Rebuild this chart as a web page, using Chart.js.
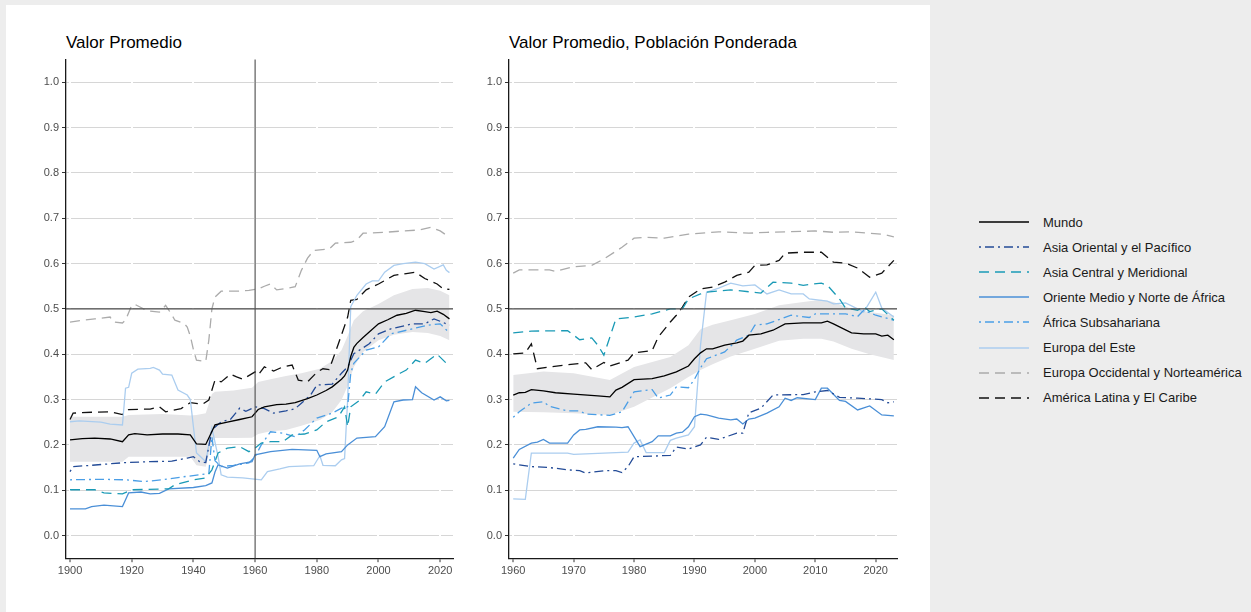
<!DOCTYPE html>
<html lang="es">
<head>
<meta charset="utf-8">
<title>Valor Promedio</title>
<script src="https://cdn.jsdelivr.net/npm/chart.js@4.4.1/dist/chart.umd.min.js"></script>
<style>
  html, body { margin: 0; padding: 0; }
  body {
    width: 1251px; height: 612px; overflow: hidden; position: relative;
    background: #ededed;
    font-family: "Liberation Sans", Arial, Helvetica, sans-serif;
  }
  .sheet { position: absolute; left: 6px; top: 5px; width: 924px; height: 607px; background: #fff; }
  .title { position: absolute; top: 34px; font-size: 17px; line-height: 17px; color: #000; white-space: nowrap; }
  .panel { position: absolute; top: 50px; }
  #legend { position: absolute; left: 979px; top: 209.5px; }
  .item { display: flex; align-items: center; height: 25.1px; font-size: 13px; color: #1a1a1a; white-space: nowrap; }
  .item svg { margin-right: 14px; flex: none; }
</style>
</head>
<body>
<div class="sheet"></div>
<div class="title" style="left:66px">Valor Promedio</div>
<div class="title" style="left:509px">Valor Promedio, Población Ponderada</div>
<canvas id="prom" class="panel" width="445" height="540" style="left:20px"></canvas>
<canvas id="pond" class="panel" width="445" height="540" style="left:463px"></canvas>
<div id="legend"></div>
<script>
// --- tick values ---
const yTicks = [0, 0.1, 0.2, 0.3, 0.4, 0.5, 0.6, 0.7, 0.8, 0.9, 1];
const promYears = [1900, 1920, 1940, 1960, 1980, 2000, 2020];
const pondYears = [1960, 1970, 1980, 1990, 2000, 2010, 2020];

const regions = [
  'Mundo',
  'Asia Oriental y el Pacífico',
  'Asia Central y Meridional',
  'Oriente Medio y Norte de África',
  'África Subsahariana',
  'Europa del Este',
  'Europa Occidental y Norteamérica',
  'América Latina y El Caribe',
];

// --- simple average, [year, value] ---
const promMundo = [[1900,.211],[1904,.214],[1908,.215],[1913,.213],[1917,.207],[1919,.222],[1921,.225],[1925,.222],[1930,.224],[1935,.224],[1939,.222],[1941,.202],[1944,.201],[1945,.215],[1947,.244],[1951,.250],[1955,.256],[1959,.262],[1961,.278],[1963,.284],[1967,.289],[1970,.290],[1973,.293],[1977,.302],[1980,.310],[1983,.320],[1985,.328],[1988,.345],[1989,.352],[1990,.365],[1991,.395],[1992,.415],[1993,.424],[1995,.437],[1997,.449],[2000,.467],[2003,.476],[2006,.486],[2009,.490],[2012,.497],[2015,.494],[2017,.492],[2019,.495],[2021,.488],[2023,.478]];
const promAsiaOr = [[1900,.141],[1901,.152],[1907,.155],[1918,.161],[1926,.163],[1933,.164],[1938,.171],[1940,.174],[1942,.163],[1944,.161],[1946,.233],[1949,.251],[1952,.256],[1955,.281],[1957,.274],[1960,.284],[1963,.280],[1966,.270],[1970,.275],[1973,.280],[1975,.292],[1978,.310],[1980,.332],[1985,.334],[1988,.358],[1990,.372],[1992,.401],[1997,.423],[2000,.445],[2004,.456],[2011,.467],[2015,.467],[2018,.478],[2021,.470],[2023,.464]];
const promAsiaCen = [[1900,.101],[1908,.101],[1911,.094],[1917,.092],[1920,.101],[1932,.103],[1934,.112],[1940,.123],[1944,.127],[1946,.145],[1948,.182],[1951,.193],[1955,.196],[1958,.185],[1960,.193],[1962,.204],[1965,.207],[1969,.207],[1972,.222],[1976,.224],[1980,.233],[1983,.251],[1987,.262],[1989,.284],[1990,.240],[1991,.284],[1994,.299],[1996,.317],[1999,.312],[2002,.339],[2007,.358],[2009,.365],[2012,.387],[2015,.380],[2019,.400],[2022,.380],[2023,.372]];
const promOriente = [[1900,.059],[1905,.059],[1907,.064],[1911,.067],[1917,.064],[1918,.079],[1919,.094],[1923,.096],[1926,.092],[1929,.093],[1932,.103],[1940,.106],[1944,.110],[1946,.116],[1947,.140],[1948,.156],[1951,.149],[1955,.158],[1959,.163],[1960,.178],[1965,.185],[1972,.190],[1980,.188],[1981,.174],[1983,.180],[1988,.185],[1990,.200],[1993,.215],[1999,.218],[2002,.240],[2005,.295],[2008,.299],[2011,.300],[2012,.328],[2014,.315],[2018,.299],[2020,.306],[2022,.297],[2023,.298]];
const promAfrica = [[1900,.123],[1910,.124],[1918,.123],[1924,.119],[1930,.123],[1936,.129],[1942,.134],[1945,.137],[1946,.218],[1947,.165],[1949,.152],[1953,.155],[1958,.160],[1960,.174],[1962,.200],[1965,.229],[1969,.226],[1973,.218],[1976,.233],[1980,.259],[1985,.270],[1988,.281],[1990,.284],[1991,.358],[1992,.380],[1996,.409],[2000,.416],[2004,.445],[2011,.456],[2016,.464],[2020,.467],[2023,.447]];
const promEuEste = [[1900,.251],[1903,.253],[1910,.250],[1913,.246],[1917,.244],[1918,.325],[1919,.327],[1920,.358],[1922,.367],[1926,.369],[1927,.371],[1929,.365],[1930,.356],[1933,.354],[1935,.321],[1938,.310],[1939,.300],[1940,.240],[1941,.182],[1942,.176],[1944,.163],[1945,.200],[1946,.237],[1948,.174],[1949,.134],[1951,.129],[1956,.127],[1962,.123],[1964,.141],[1968,.147],[1971,.152],[1979,.154],[1981,.176],[1982,.155],[1986,.154],[1988,.167],[1989,.170],[1990,.300],[1991,.505],[1993,.530],[1996,.555],[1998,.562],[2000,.562],[2002,.581],[2005,.596],[2008,.600],[2012,.603],[2015,.600],[2018,.588],[2021,.597],[2022,.585],[2023,.580]];
const promEuOcc = [[1900,.471],[1904,.475],[1908,.478],[1913,.482],[1914,.471],[1917,.469],[1918,.475],[1920,.508],[1921,.510],[1923,.503],[1925,.496],[1929,.493],[1930,.500],[1931,.508],[1933,.487],[1934,.475],[1937,.468],[1938,.460],[1939,.440],[1940,.410],[1941,.387],[1944,.384],[1945,.431],[1946,.500],[1947,.526],[1949,.539],[1955,.539],[1958,.541],[1961,.544],[1963,.550],[1965,.555],[1967,.542],[1970,.545],[1973,.549],[1975,.585],[1977,.612],[1979,.629],[1984,.632],[1986,.645],[1991,.647],[1993,.652],[1995,.667],[2002,.669],[2008,.672],[2013,.674],[2017,.680],[2020,.672],[2023,.658]];
const promAmLat = [[1900,.256],[1901,.270],[1907,.272],[1913,.273],[1917,.267],[1919,.278],[1926,.279],[1929,.284],[1931,.273],[1936,.280],[1939,.293],[1943,.290],[1945,.299],[1947,.343],[1949,.339],[1952,.356],[1954,.350],[1956,.345],[1960,.361],[1961,.354],[1963,.372],[1966,.363],[1969,.372],[1972,.376],[1974,.343],[1977,.339],[1980,.360],[1982,.368],[1984,.366],[1987,.423],[1990,.482],[1991,.519],[1993,.521],[1996,.542],[2000,.555],[2005,.574],[2009,.578],[2012,.581],[2015,.567],[2019,.555],[2021,.544],[2023,.543]];
// world band: [year, low, high]
const promBanda = [[1900,.163,.262],[1917,.163,.262],[1919,.174,.266],[1930,.174,.268],[1939,.174,.265],[1941,.155,.266],[1944,.152,.270],[1946,.205,.312],[1947,.215,.317],[1953,.215,.320],[1959,.216,.326],[1961,.224,.339],[1965,.230,.345],[1970,.233,.352],[1975,.242,.358],[1981,.255,.368],[1985,.272,.385],[1988,.299,.409],[1990,.330,.440],[1992,.372,.475],[1995,.405,.495],[2000,.431,.511],[2005,.443,.530],[2011,.449,.544],[2016,.447,.546],[2020,.440,.540],[2023,.431,.530]];

// --- population weighted average, [year, value] ---
const pondMundo = [[1960,.310],[1961,.315],[1962,.316],[1963,.322],[1965,.319],[1967,.315],[1970,.312],[1974,.308],[1976,.306],[1977,.321],[1978,.327],[1980,.344],[1983,.346],[1985,.352],[1987,.361],[1989,.374],[1990,.390],[1991,.403],[1992,.412],[1993,.412],[1995,.420],[1997,.425],[1998,.429],[1999,.442],[2001,.445],[2003,.453],[2005,.467],[2008,.469],[2011,.469],[2012,.473],[2013,.467],[2016,.447],[2018,.445],[2020,.445],[2021,.440],[2022,.442],[2023,.432]];
const pondAsiaOr = [[1960,.158],[1963,.152],[1966,.150],[1969,.145],[1971,.143],[1972,.138],[1975,.143],[1977,.143],[1978,.139],[1979,.152],[1980,.174],[1983,.175],[1986,.177],[1987,.195],[1989,.191],[1991,.200],[1992,.217],[1994,.212],[1997,.226],[1998,.226],[1999,.271],[2001,.281],[2003,.310],[2008,.311],[2010,.317],[2012,.320],[2014,.305],[2017,.303],[2021,.300],[2022,.293],[2023,.295]];
const pondAsiaCen = [[1960,.447],[1963,.451],[1969,.452],[1971,.432],[1973,.436],[1974,.420],[1975,.398],[1977,.478],[1980,.482],[1983,.489],[1986,.500],[1988,.500],[1989,.522],[1991,.533],[1992,.537],[1996,.542],[2001,.535],[2003,.559],[2006,.557],[2008,.552],[2011,.557],[2012,.552],[2014,.522],[2015,.502],[2017,.497],[2018,.505],[2019,.494],[2021,.500],[2023,.475]];
const pondOriente = [[1960,.171],[1961,.190],[1963,.204],[1964,.206],[1965,.212],[1966,.204],[1969,.204],[1970,.222],[1971,.233],[1972,.234],[1974,.240],[1977,.239],[1978,.238],[1979,.240],[1981,.196],[1983,.207],[1984,.220],[1986,.220],[1987,.226],[1988,.228],[1989,.240],[1990,.262],[1991,.268],[1992,.266],[1994,.259],[1996,.255],[1997,.257],[1998,.246],[1999,.257],[2000,.259],[2002,.270],[2004,.284],[2005,.303],[2006,.298],[2007,.304],[2010,.300],[2011,.325],[2012,.325],[2014,.298],[2015,.296],[2017,.277],[2019,.286],[2021,.266],[2023,.264]];
const pondAfrica = [[1960,.261],[1961,.273],[1963,.292],[1965,.295],[1966,.285],[1969,.275],[1971,.275],[1972,.268],[1976,.265],[1978,.273],[1980,.317],[1983,.322],[1984,.303],[1986,.310],[1987,.328],[1989,.326],[1990,.345],[1991,.370],[1992,.390],[1995,.405],[1997,.431],[1999,.442],[2000,.464],[2002,.467],[2006,.486],[2009,.481],[2010,.489],[2015,.489],[2017,.483],[2018,.497],[2020,.486],[2023,.475]];
const pondEuEste = [[1960,.081],[1962,.080],[1963,.182],[1969,.182],[1970,.179],[1979,.184],[1980,.204],[1981,.211],[1982,.183],[1985,.183],[1986,.210],[1987,.215],[1989,.222],[1990,.240],[1991,.420],[1992,.537],[1994,.546],[1996,.557],[1998,.551],[2000,.553],[2002,.533],[2004,.542],[2006,.533],[2008,.533],[2009,.522],[2012,.517],[2013,.511],[2015,.513],[2017,.500],[2018,.493],[2020,.537],[2021,.502],[2023,.482]];
const pondEuOcc = [[1960,.579],[1961,.586],[1966,.586],[1967,.583],[1970,.593],[1973,.596],[1975,.610],[1978,.636],[1980,.656],[1982,.658],[1985,.656],[1989,.665],[1994,.670],[1999,.667],[2002,.669],[2008,.671],[2010,.672],[2013,.669],[2016,.670],[2019,.667],[2021,.665],[2023,.659]];
const pondAmLat = [[1960,.401],[1962,.403],[1963,.423],[1964,.368],[1966,.372],[1969,.377],[1972,.381],[1973,.366],[1975,.382],[1976,.374],[1979,.387],[1980,.403],[1983,.408],[1984,.438],[1986,.471],[1987,.486],[1988,.504],[1989,.526],[1991,.544],[1993,.548],[1995,.559],[1997,.574],[1999,.581],[2000,.596],[2002,.597],[2004,.607],[2005,.623],[2008,.625],[2011,.625],[2013,.603],[2015,.601],[2017,.590],[2019,.570],[2021,.579],[2023,.607]];
const pondBanda = [[1960,.273,.354],[1965,.272,.362],[1970,.270,.358],[1976,.266,.343],[1980,.284,.372],[1986,.325,.394],[1989,.350,.420],[1991,.365,.455],[1993,.378,.465],[1996,.395,.475],[2000,.412,.489],[2004,.430,.508],[2008,.434,.515],[2011,.434,.520],[2013,.428,.515],[2016,.412,.500],[2019,.400,.493],[2023,.387,.486]];

// --- styles ---
const colors = ['#000000', '#234b97', '#1a9ab6', '#4a8fd7', '#4a9ee6', '#abcdef', '#ababab', '#111111'];
const dashDot = [2, 4, 9, 4];
const dashed = [10, 6];
const dashes = [[], dashDot, dashed, [], dashDot, [], dashed, dashed];
const bandColor = '#e5e5e7';
const tickFont = { family: '"Liberation Sans", Arial, sans-serif', size: 11 };

const toPoints = rows => rows.map(([x, y]) => ({ x, y }));

const buildDatasets = (lines, band) => [
  ...lines.map((rows, i) => ({
    label: regions[i],
    data: toPoints(rows),
    borderColor: colors[i],
    borderDash: dashes[i],
    borderWidth: 1.3,
    pointRadius: 0,
    tension: 0,
    fill: false,
  })),
  {
    label: 'banda-sup',
    data: band.map(([x, , hi]) => ({ x, y: hi })),
    borderWidth: 0,
    borderColor: 'transparent',
    backgroundColor: bandColor,
    pointRadius: 0,
    fill: '+1',
  },
  {
    label: 'banda-inf',
    data: band.map(([x, lo]) => ({ x, y: lo })),
    borderWidth: 0,
    borderColor: 'transparent',
    pointRadius: 0,
    fill: false,
  },
];

// horizontal reference at 0.5, optional vertical cut year
const refLines = {
  id: 'refLines',
  afterDatasetsDraw(chart, args, opts) {
    const { ctx, chartArea: a, scales: { x, y } } = chart;
    ctx.save();
    ctx.strokeStyle = '#4d4d4d';
    ctx.lineWidth = 1.1;
    ctx.beginPath();
    const py = y.getPixelForValue(opts.y);
    ctx.moveTo(a.left, py);
    ctx.lineTo(a.right, py);
    if (opts.x !== undefined) {
      const px = x.getPixelForValue(opts.x);
      ctx.moveTo(px, a.top);
      ctx.lineTo(px, a.bottom);
    }
    ctx.stroke();
    ctx.restore();
  },
};

const makeOptions = ({ xMin, xMax, xTicks, padRight, ref }) => ({
  responsive: false,
  animation: false,
  devicePixelRatio: 1,
  layout: { padding: { top: 8.8, right: padRight, bottom: 0, left: 0 } },
  plugins: { legend: { display: false }, tooltip: { enabled: false }, refLines: ref },
  scales: {
    x: {
      type: 'linear',
      min: xMin,
      max: xMax,
      afterBuildTicks: s => { s.ticks = xTicks.map(value => ({ value })); },
      afterFit: s => { s.height = 31.8; },
      grid: { color: '#ffffff', lineWidth: 2, z: -1, tickColor: '#333333', tickLength: 4, tickWidth: 1 },
      border: { display: true, color: '#1a1a1a', width: 1.3 },
      ticks: { color: '#4d4d4d', font: tickFont, padding: 2, maxRotation: 0, autoSkip: false, callback: v => String(v) },
    },
    y: {
      type: 'linear',
      min: -0.05,
      max: 1.05,
      afterBuildTicks: s => { s.ticks = yTicks.map(value => ({ value })); },
      afterFit: s => { s.width = 46; },
      grid: { color: '#d6d6d6', lineWidth: 1, z: -2, tickColor: '#333333', tickLength: 4, tickWidth: 1 },
      border: { display: true, color: '#1a1a1a', width: 1.3 },
      ticks: { color: '#4d4d4d', font: tickFont, padding: 3, callback: v => v.toFixed(1) },
    },
  },
});

new Chart(document.getElementById('prom'), {
  type: 'line',
  data: { datasets: buildDatasets([promMundo, promAsiaOr, promAsiaCen, promOriente, promAfrica, promEuEste, promEuOcc, promAmLat], promBanda) },
  options: makeOptions({ xMin: 1898.7, xMax: 2024.15, xTicks: promYears, padRight: 12, ref: { y: 0.5, x: 1960 } }),
  plugins: [refLines],
});

new Chart(document.getElementById('pond'), {
  type: 'line',
  data: { datasets: buildDatasets([pondMundo, pondAsiaOr, pondAsiaCen, pondOriente, pondAfrica, pondEuEste, pondEuOcc, pondAmLat], pondBanda) },
  options: makeOptions({ xMin: 1959.3, xMax: 2023.52, xTicks: pondYears, padRight: 11, ref: { y: 0.5 } }),
  plugins: [refLines],
});

// legend with line samples
const legend = document.getElementById('legend');
regions.forEach((name, i) => {
  legend.insertAdjacentHTML('beforeend',
    `<div class="item"><svg width="50" height="6"><line x1="0" y1="3" x2="50" y2="3" stroke="${colors[i]}" stroke-width="1.5" stroke-dasharray="${dashes[i].join(' ')}"/></svg><span>${name}</span></div>`);
});
</script>
</body>
</html>
